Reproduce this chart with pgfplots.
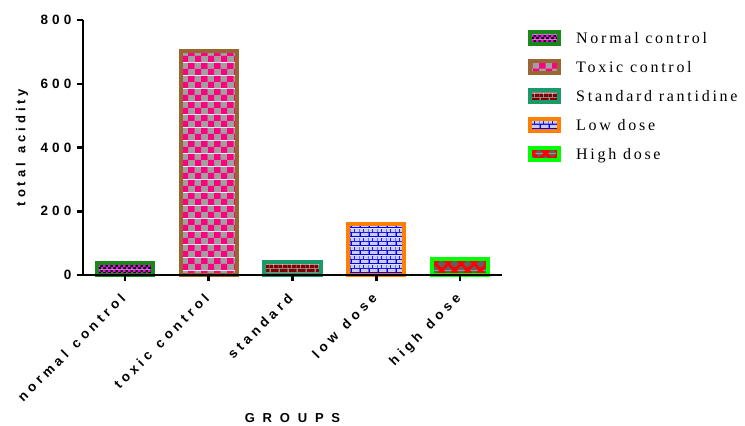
\documentclass[border=0pt]{standalone}
\usepackage{fontspec}
\usepackage{pgfplots}
\pgfplotsset{compat=1.18}
\usetikzlibrary{patterns}
\newfontfamily\lbl{Liberation Sans}[LetterSpace=30,WordSpace=1.3]
\newfontfamily\grp{Liberation Sans}[LetterSpace=60]
\newfontfamily\leg{Liberation Serif}[LetterSpace=17]

\definecolor{ncborder}{RGB}{25,135,25}
\definecolor{ncfg}{RGB}{255,0,255}
\definecolor{tcborder}{RGB}{153,102,51}
\definecolor{tcpink}{RGB}{255,0,128}
\definecolor{tcgray}{RGB}{160,160,160}
\definecolor{stborder}{RGB}{25,155,105}
\definecolor{stbrick}{RGB}{128,0,0}
\definecolor{stmortar}{RGB}{150,150,150}
\definecolor{ldborder}{RGB}{255,128,0}
\definecolor{ldbrick}{RGB}{205,205,225}
\definecolor{ldmortar}{RGB}{0,0,255}
\definecolor{hdborder}{RGB}{0,255,0}
\definecolor{hdbg}{RGB}{96,96,96}
\definecolor{hdfg}{RGB}{255,0,0}

\pgfdeclarepatterninherentlycolored{ncpat}{\pgfpointorigin}{\pgfqpoint{4.6pt}{4.6pt}}{\pgfqpoint{4.6pt}{4.6pt}}{%
  \pgfsetfillcolor{black}%
  \pgfpathrectangle{\pgfpointorigin}{\pgfqpoint{4.6pt}{4.6pt}}\pgfusepath{fill}%
  \pgfsetfillcolor{ncfg}%
  \pgfpathrectangle{\pgfqpoint{0pt}{0pt}}{\pgfqpoint{2.3pt}{2.3pt}}%
  \pgfpathrectangle{\pgfqpoint{2.3pt}{2.3pt}}{\pgfqpoint{2.3pt}{2.3pt}}%
  \pgfusepath{fill}}
\pgfdeclarepatterninherentlycolored{tcpat}{\pgfpointorigin}{\pgfqpoint{13pt}{13pt}}{\pgfqpoint{13pt}{13pt}}{%
  \pgfsetfillcolor{tcgray}%
  \pgfpathrectangle{\pgfpointorigin}{\pgfqpoint{13pt}{13pt}}\pgfusepath{fill}%
  \pgfsetfillcolor{tcpink}%
  \pgfpathrectangle{\pgfqpoint{0pt}{0pt}}{\pgfqpoint{6.5pt}{6.5pt}}%
  \pgfpathrectangle{\pgfqpoint{6.5pt}{6.5pt}}{\pgfqpoint{6.5pt}{6.5pt}}%
  \pgfusepath{fill}}
\pgfdeclarepatterninherentlycolored{stpat}{\pgfpointorigin}{\pgfqpoint{9pt}{9pt}}{\pgfqpoint{9pt}{9pt}}{%
  \pgfsetfillcolor{stmortar}%
  \pgfpathrectangle{\pgfpointorigin}{\pgfqpoint{9pt}{9pt}}\pgfusepath{fill}%
  \pgfsetfillcolor{stbrick}%
  \pgfpathrectangle{\pgfqpoint{1pt}{1pt}}{\pgfqpoint{8pt}{3.5pt}}%
  \pgfpathrectangle{\pgfqpoint{0pt}{5.5pt}}{\pgfqpoint{3.5pt}{3.5pt}}%
  \pgfpathrectangle{\pgfqpoint{4.5pt}{5.5pt}}{\pgfqpoint{4.5pt}{3.5pt}}%
  \pgfusepath{fill}}
\pgfdeclarepatterninherentlycolored{ldpat}{\pgfpointorigin}{\pgfqpoint{9pt}{9pt}}{\pgfqpoint{9pt}{9pt}}{%
  \pgfsetfillcolor{ldmortar}%
  \pgfpathrectangle{\pgfpointorigin}{\pgfqpoint{9pt}{9pt}}\pgfusepath{fill}%
  \pgfsetfillcolor{ldbrick}%
  \pgfpathrectangle{\pgfqpoint{1.2pt}{1.2pt}}{\pgfqpoint{7.8pt}{3.3pt}}%
  \pgfpathrectangle{\pgfqpoint{0pt}{5.7pt}}{\pgfqpoint{3.3pt}{3.3pt}}%
  \pgfpathrectangle{\pgfqpoint{4.5pt}{5.7pt}}{\pgfqpoint{4.5pt}{3.3pt}}%
  \pgfusepath{fill}}
\pgfdeclarepatterninherentlycolored{hdpat}{\pgfpointorigin}{\pgfqpoint{13pt}{13pt}}{\pgfqpoint{13pt}{13pt}}{%
  \pgfsetfillcolor{hdbg}%
  \pgfpathrectangle{\pgfpointorigin}{\pgfqpoint{13pt}{13pt}}\pgfusepath{fill}%
  \pgfsetstrokecolor{hdfg}%
  \pgfsetlinewidth{3pt}%
  \pgfpathmoveto{\pgfqpoint{-2pt}{-2pt}}\pgfpathlineto{\pgfqpoint{15pt}{15pt}}%
  \pgfpathmoveto{\pgfqpoint{-2pt}{11pt}}\pgfpathlineto{\pgfqpoint{4pt}{17pt}}%
  \pgfpathmoveto{\pgfqpoint{11pt}{-2pt}}\pgfpathlineto{\pgfqpoint{17pt}{4pt}}%
  \pgfpathmoveto{\pgfqpoint{-2pt}{15pt}}\pgfpathlineto{\pgfqpoint{15pt}{-2pt}}%
  \pgfpathmoveto{\pgfqpoint{-2pt}{2pt}}\pgfpathlineto{\pgfqpoint{2pt}{-2pt}}%
  \pgfpathmoveto{\pgfqpoint{11pt}{15pt}}\pgfpathlineto{\pgfqpoint{15pt}{11pt}}%
  \pgfusepath{stroke}}

\pgfplotsset{
  mybar/.style 2 args={
    draw=#1, pattern=#2, line width=4pt,
    /pgf/bar shift=0pt,
    legend image code/.code={\draw[##1] (2pt,-6pt) rectangle (31pt,6pt);},
  },
}

\begin{document}
\begin{tikzpicture}
\begin{axis}[
  at={(0,0)}, anchor=south west,
  width=419pt, height=255pt, scale only axis,
  xmin=-0.5, xmax=4.5, ymin=0, ymax=800,
  ybar, bar width=0.67,
  axis x line=bottom, axis y line=left,
  axis line style={-, line width=2.5pt, black},
  axis on top,
  xtick={0,1,2,3,4},
  xticklabels={normal control, toxic control, standard, low dose, high dose},
  ytick={0,200,400,600,800},
  tick style={line width=2.5pt, black},
  major tick length=6pt,
  xtick align=outside, ytick align=outside,
  /pgf/number format/assume math mode=true,
  tick label style={font=\lbl\bfseries\fontsize{13.5}{15}\selectfont},
  yticklabel style={inner xsep=5.5pt},
  xticklabel style={rotate=45, anchor=north east, inner xsep=12pt, inner ysep=4pt},
  ylabel={total acidity},
  ylabel style={font=\lbl\bfseries\fontsize{13}{15}\selectfont, at={(axis description cs:-0.1456,0.5)}, anchor=center},
  xlabel={GROUPS},
  xlabel style={font=\grp\bfseries\fontsize{13}{15}\selectfont, at={(axis description cs:0.5,-0.561)}, anchor=center},
  legend style={at={(axis description cs:1.0621,0.9608)}, anchor=north west, draw=none, fill=none,
    inner sep=0pt, row sep=13pt, column sep=15pt,
    font=\leg\fontsize{16}{18}\selectfont,
    nodes={inner sep=0pt}},
  legend cell align=left,
  clip=false,
]
\addplot[mybar={ncborder}{ncpat}] coordinates {(0,37)};
\addlegendentry{Normal control}
\addplot[mybar={tcborder}{tcpat}] coordinates {(1,702)};
\addlegendentry{Toxic control}
\addplot[mybar={stborder}{stpat}] coordinates {(2,41)};
\addlegendentry{Standard rantidine}
\addplot[mybar={ldborder}{ldpat}] coordinates {(3,159)};
\addlegendentry{Low dose}
\addplot[mybar={hdborder}{hdpat}] coordinates {(4,49)};
\addlegendentry{High dose}
\end{axis}
\pgfresetboundingbox
\path (-83pt,-151pt) rectangle (662pt,275pt);
\end{tikzpicture}
\end{document}
